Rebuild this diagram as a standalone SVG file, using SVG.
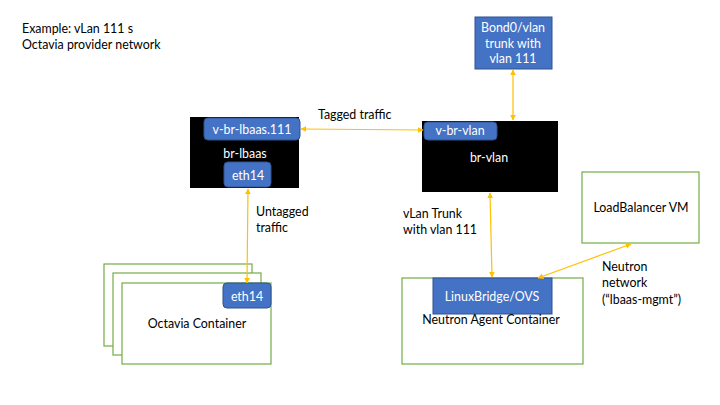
<svg xmlns="http://www.w3.org/2000/svg" width="720" height="405" viewBox="0 0 720 405">
<defs>
<marker id="ah" viewBox="0 0 10 10" refX="9" refY="5" markerWidth="6" markerHeight="6" markerUnits="userSpaceOnUse" orient="auto-start-reverse">
<path d="M0,0 L10,5 L0,10 z" fill="#FFC000"/>
</marker>
<style>
text{font-family:Lato,"Liberation Sans",sans-serif;font-size:12.4px;fill:#000}
.w{fill:#fff}
.c{text-anchor:middle}
.blue{fill:#4472C4;stroke:#2F528F;stroke-width:1}
.blk{fill:#000}
.grn{fill:#fff;stroke:#70AD47;stroke-width:1.2}
.con{stroke:#FFC000;stroke-width:1.2;fill:none;marker-start:url(#ah);marker-end:url(#ah)}
</style>
</defs>
<rect width="720" height="405" fill="#fff"/>
<g id="title">
<text x="22" y="33">Example: vLan 111 s</text>
<text x="22" y="49">Octavia provider network</text>
</g>
<g id="bond0">
<rect class="blue" x="475" y="17" width="77" height="52"/>
<text class="w c" x="513" y="32">Bond0/vlan</text>
<text class="w c" x="513" y="48">trunk with</text>
<text class="w c" x="513" y="63">vlan 111</text>
</g>
<g id="br-lbaas">
<rect class="blk" x="190" y="117" width="109" height="71"/>
<rect class="blue" x="204" y="118" width="96" height="22" rx="4"/>
<text class="w c" x="252" y="134">v-br-lbaas.111</text>
<text class="w c" x="245" y="158">br-lbaas</text>
<rect class="blue" x="224" y="162" width="47" height="25" rx="4"/>
<text class="w c" x="248" y="180">eth14</text>
</g>
<g id="br-vlan">
<rect class="blk" x="422" y="121" width="136" height="71"/>
<rect class="blue" x="424" y="122" width="73" height="18" rx="4"/>
<text class="w c" x="460" y="135">v-br-vlan</text>
<text class="w c" x="489" y="162">br-vlan</text>
</g>
<g id="octavia">
<rect class="grn" x="104" y="264" width="148" height="82"/>
<rect class="grn" x="113" y="273" width="148" height="82"/>
<rect class="grn" x="122" y="283" width="149" height="81"/>
<rect class="blue" x="223" y="283" width="48" height="25" rx="4"/>
<text class="w c" x="247" y="301">eth14</text>
<text class="c" x="197" y="328">Octavia Container</text>
</g>
<g id="neutron-agent">
<rect class="grn" x="402" y="278" width="181" height="86"/>
<rect class="blue" x="433" y="278" width="119" height="36"/>
<text class="w c" x="492" y="301">LinuxBridge/OVS</text>
<text class="c" x="491" y="324">Neutron Agent Container</text>
</g>
<g id="lb-vm">
<rect class="grn" x="582" y="172" width="117" height="71"/>
<text class="c" x="641" y="212">LoadBalancer VM</text>
</g>
<g id="connectors">
<line class="con" x1="513" y1="70" x2="513" y2="120"/>
<line class="con" x1="301" y1="129" x2="423" y2="130"/>
<line class="con" x1="248" y1="189" x2="247" y2="283"/>
<line class="con" x1="490" y1="193" x2="492" y2="277"/>
<line class="con" x1="631" y1="244" x2="538" y2="278"/>
</g>
<g id="labels">
<text x="318" y="119">Tagged traffic</text>
<text x="256" y="216">Untagged</text>
<text x="256" y="232">traffic</text>
<text x="403" y="218">vLan Trunk</text>
<text x="403" y="234">with vlan 111</text>
<text x="602" y="271">Neutron</text>
<text x="602" y="287">network</text>
<text x="602" y="304">(“lbaas-mgmt”)</text>
</g>
</svg>
